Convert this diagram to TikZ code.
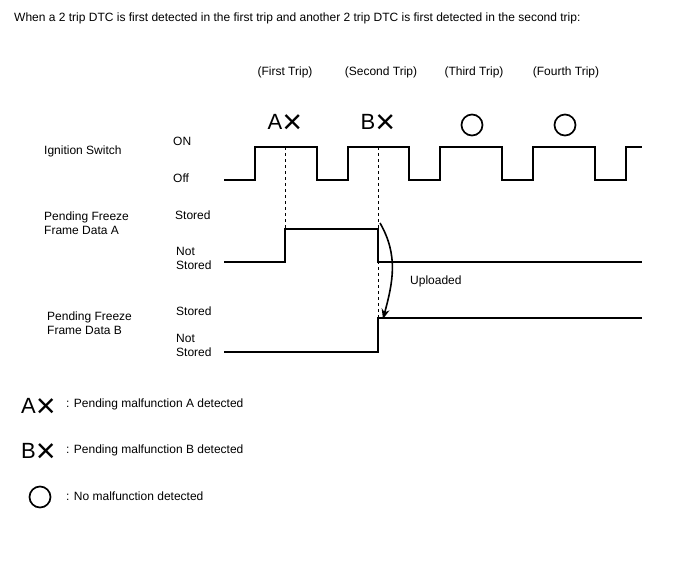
\documentclass[tikz,border=0pt]{standalone}
\usepackage{fontspec}
\setmainfont{Liberation Sans}
\usetikzlibrary{positioning,arrows.meta}
\newcommand{\crossmark}{\raisebox{-4pt}{\fontsize{34}{34}\selectfont ×}}
\newcommand{\detmark}[1]{{\fontsize{22}{22}\selectfont #1}\crossmark}

\begin{document}
\begin{tikzpicture}[x=1pt,y=-1pt,
  lbl/.style={anchor=west,inner sep=0pt,align=left,font=\fontsize{12}{14}\selectfont},
  trip/.style={inner sep=0pt,font=\fontsize{12}{14}\selectfont},
  detsym/.style={inner sep=0pt},
  okmark/.style={circle,draw,line width=1.7pt,minimum size=21pt,inner sep=0pt},
  wave/.style={line width=1.2pt},
  guide/.style={dashed,line width=0.9pt}]
  \useasboundingbox (0,0) rectangle (688,560);

  \node[lbl] (title) at (14,18) {When a 2 trip DTC is first detected in the first trip and another 2 trip DTC is first detected in the second trip:};

  % trips
  \node[trip] (t1) at (285,72) {(First Trip)};
  \node[trip] (t2) at (381,72) {(Second Trip)};
  \node[trip] (t3) at (474,72) {(Third Trip)};
  \node[trip] (t4) at (566,72) {(Fourth Trip)};
  \node[detsym] (ma) at (285,124) {\detmark{A}};
  \node[detsym] (mb) at (378,124) {\detmark{B}};
  \node[okmark] (m3) at (472,125) {};
  \node[okmark] (m4) at (565,125) {};

  % signal names
  \node[lbl] (ign) at (44,151) {Ignition Switch};
  \node[lbl] (pfa) at (44,223.5) {Pending Freeze\\Frame Data A};
  \node[lbl] (pfb) at (47,323) {Pending Freeze\\Frame Data B};
  \node[lbl] (on)  at (173,141) {ON};
  \node[lbl] (off) at (173,178) {Off};
  \node[lbl] (sta) at (175,215) {Stored};
  \node[lbl] (nsa) at (176,258.5) {Not\\Stored};
  \node[lbl] (stb) at (176,311) {Stored};
  \node[lbl] (nsb) at (176,345.5) {Not\\Stored};

  % ignition switch
  \draw[wave] (224,180)
    \foreach \r/\f in {255/317,348/409,440/502,533/595} {-- (\r,180) -- (\r,147) -- (\f,147) -- (\f,180)}
    -- (626,180) -- (626,147) -- (642,147);

  % freeze frame data
  \coordinate (aup) at (285,229);
  \coordinate (adn) at (378,229);
  \coordinate (bup) at (378,318);
  \draw[wave] (224,262) -- (285,262) -- (aup) -- (adn) -- (378,262) -- (642,262);
  \draw[wave] (224,352) -- (378,352) -- (bup) -- (642,318);
  \draw[guide] (285,147) -- (aup);
  \draw[guide] (378,147) -- (bup);

  \draw[-{Stealth[length=10pt,width=8pt]},line width=1.6pt] ([xshift=2pt,yshift=6pt]adn) to[out=-60,in=75] ([xshift=5pt,yshift=-1pt]bup);
  \node[lbl] (upl) at (410,281) {Uploaded};

  % legend
  \node[detsym,anchor=west] (la) at (21,408) {\detmark{A}};
  \node[lbl] (lat) at (66,404) {: Pending malfunction A detected};
  \node[detsym,anchor=west] (lb) at (21,453) {\detmark{B}};
  \node[lbl] (lbt) at (66,450) {: Pending malfunction B detected};
  \node[okmark] (lc) at (40,497) {};
  \node[lbl] (lct) at (66,496) {: No malfunction detected};
\end{tikzpicture}
\end{document}
